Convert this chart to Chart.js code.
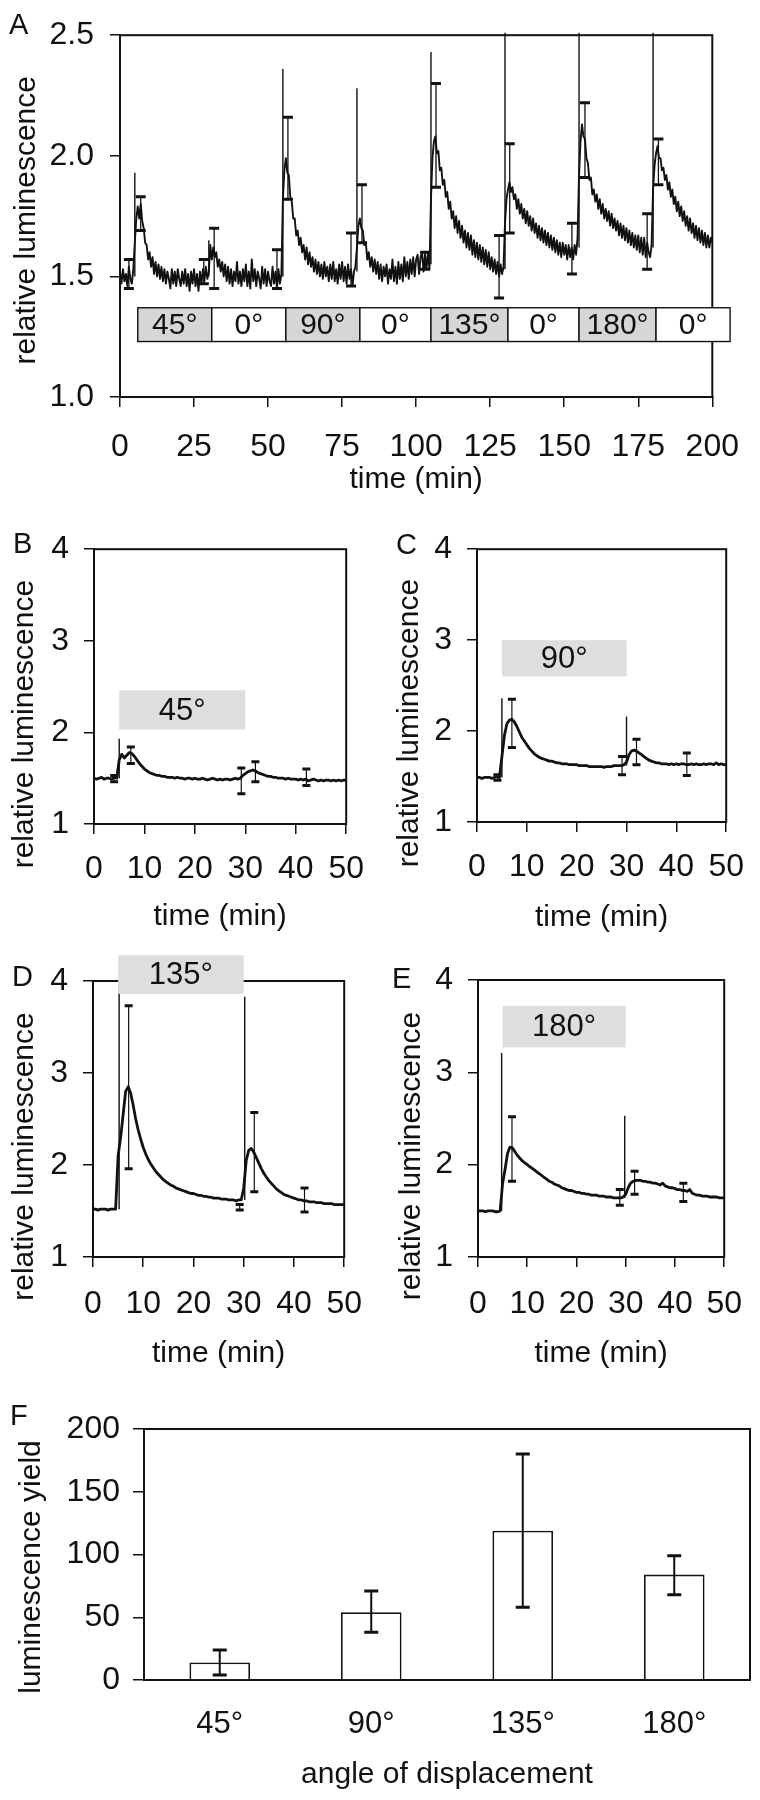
<!DOCTYPE html>
<html><head><meta charset="utf-8">
<script src="https://cdn.jsdelivr.net/npm/chart.js@4.4.1/dist/chart.umd.min.js"></script>
<style>
html,body{margin:0;padding:0;background:#fff;}
#fig{position:relative;width:760px;height:1800px;overflow:hidden;background:#fff;font-family:'Liberation Sans',Arial,sans-serif;}
canvas{position:absolute;}
.lt{position:absolute;font-size:29px;line-height:29px;color:#111;}
</style></head><body>
<div id="fig">
<canvas id="cA" width="760" height="510" style="left:0;top:0"></canvas>
<canvas id="cB" width="380" height="425" style="left:0;top:515px"></canvas>
<canvas id="cC" width="380" height="425" style="left:380px;top:515px"></canvas>
<canvas id="cD" width="380" height="430" style="left:0;top:945px"></canvas>
<canvas id="cE" width="380" height="430" style="left:380px;top:945px"></canvas>
<canvas id="cF" width="760" height="420" style="left:0;top:1380px"></canvas>
<div class="lt" style="left:9px;top:10px">A</div>
<div class="lt" style="left:13px;top:529px">B</div>
<div class="lt" style="left:396px;top:530px">C</div>
<div class="lt" style="left:12px;top:962px">D</div>
<div class="lt" style="left:392px;top:964px">E</div>
<div class="lt" style="left:10px;top:1401px">F</div>
</div>
<script>
// ---------- DATA ----------
// Panel A: sampling step (min) and relative luminescence trace
const STEP_A = 0.5;
const lumA = [
1.52,1.47,1.53,1.48,1.51,1.46,1.54,1.49,1.47,1.53,
1.64,1.74,1.79,1.74,1.80,1.73,1.70,1.64,1.63,1.57,1.60,1.54,1.58,1.51,1.56,1.50,1.55,1.49,1.54,1.48,
1.53,1.47,1.52,1.49,1.45,1.53,1.47,1.52,1.46,1.53,1.49,1.46,1.52,1.47,1.53,1.46,1.51,1.44,1.52,1.47,
1.53,1.46,1.51,1.44,1.52,1.47,1.53,1.48,1.54,1.49,
1.52,1.63,1.57,1.62,1.58,1.60,1.54,1.57,1.52,1.56,1.50,1.55,1.48,1.54,1.47,1.53,1.46,1.52,1.48,1.56,
1.47,1.52,1.46,1.53,1.48,1.55,1.46,1.52,1.45,1.57,1.48,1.53,1.46,1.52,1.49,1.45,1.54,1.47,1.53,1.46,
1.52,1.48,1.46,1.54,1.47,1.52,1.45,1.53,1.47,1.51,
1.82,1.94,1.99,1.93,1.92,1.83,1.81,1.74,1.74,1.67,1.69,1.63,1.66,1.60,1.63,1.57,1.62,1.55,1.60,1.54,
1.58,1.52,1.57,1.51,1.56,1.50,1.55,1.49,1.56,1.50,1.54,1.48,1.55,1.49,1.56,1.48,1.53,1.47,1.55,1.49,
1.56,1.48,1.54,1.47,1.55,1.49,1.53,1.46,1.52,1.54,
1.62,1.71,1.74,1.70,1.69,1.63,1.64,1.57,1.60,1.54,1.58,1.52,1.57,1.51,1.56,1.49,1.55,1.48,1.54,1.50,
1.55,1.47,1.53,1.49,1.57,1.48,1.54,1.47,1.56,1.49,1.55,1.48,1.58,1.50,1.56,1.49,1.57,1.51,1.58,1.50,
1.57,1.59,1.51,1.58,1.60,1.52,1.59,1.53,1.60,1.53,
1.82,1.99,2.06,2.08,2.01,2.02,1.94,1.95,1.88,1.90,1.83,1.85,1.78,1.81,1.74,1.77,1.70,1.75,1.68,1.73,
1.66,1.71,1.64,1.69,1.62,1.68,1.61,1.67,1.59,1.65,1.58,1.64,1.57,1.63,1.56,1.62,1.55,1.61,1.54,1.60,
1.53,1.58,1.52,1.57,1.51,1.56,1.50,1.55,1.51,1.54,
1.72,1.82,1.86,1.89,1.85,1.87,1.82,1.84,1.78,1.82,1.76,1.80,1.74,1.78,1.72,1.77,1.71,1.75,1.69,1.74,
1.68,1.72,1.66,1.71,1.65,1.70,1.64,1.69,1.63,1.68,1.62,1.67,1.61,1.66,1.60,1.65,1.59,1.64,1.58,1.64,
1.59,1.63,1.57,1.63,1.58,1.62,1.57,1.63,1.59,1.66,
1.92,2.06,2.13,2.08,2.07,1.99,1.97,1.90,1.91,1.84,1.86,1.81,1.84,1.78,1.82,1.76,1.80,1.74,1.78,1.73,
1.77,1.71,1.76,1.70,1.74,1.69,1.73,1.67,1.72,1.66,1.71,1.65,1.70,1.64,1.69,1.63,1.68,1.62,1.67,1.61,
1.67,1.60,1.66,1.59,1.66,1.58,1.64,1.60,1.58,1.63,
1.86,1.96,2.01,2.04,1.99,1.99,1.94,1.95,1.90,1.92,1.86,1.89,1.83,1.86,1.80,1.83,1.77,1.81,1.75,1.79,
1.73,1.77,1.71,1.75,1.69,1.74,1.68,1.72,1.66,1.71,1.65,1.70,1.64,1.69,1.63,1.68,1.62,1.67,1.62,1.66,
1.64
];
// Panel A: stimulus spikes (time, base, top)
const spikeTimeA = [5, 30, 55, 80, 105, 130, 155, 180];
const spikeBaseA = [1.50, 1.50, 1.50, 1.52, 1.55, 1.53, 1.62, 1.62];
const spikeTopA  = [1.93, 1.65, 2.36, 2.28, 2.43, 2.51, 2.51, 2.51];
// Panel A: error bars
const errTimeA = [3, 7, 28.3, 31.8, 53, 56.7, 78, 81.7, 103, 106.7, 128, 131.6, 152.6, 157, 178, 181.8];
const errLowA  = [1.45,1.69,1.47,1.45,1.45,1.82,1.46,1.64,1.53,1.87,1.41,1.68,1.51,1.91,1.53,1.88];
const errHighA = [1.57,1.83,1.57,1.70,1.61,2.16,1.68,1.88,1.60,2.30,1.67,2.05,1.72,2.22,1.76,2.07];
// Panel A: displacement protocol boxes
const protoEdgesA  = [6, 31, 56, 81, 105, 131, 155, 181, 206];
const protoLabelsA = ['45°','0°','90°','0°','135°','0°','180°','0°'];
const protoRowA    = [1.23, 1.37];
const ticksA_x = [0, 200, 25];
const ticksA_y = [1.0, 2.5, 0.5];

// Panels B-E: 0.5-min samples, 0..50 min
const STEP_BE = 0.5;
const lumB = [
1.50,1.49,1.50,1.51,1.49,1.50,1.50,1.49,1.51,1.50,
1.70,1.76,1.72,1.75,1.78,1.77,1.74,1.70,1.66,1.63,
1.60,1.58,1.56,1.55,1.54,1.53,1.53,1.52,1.52,1.51,
1.51,1.51,1.50,1.51,1.50,1.50,1.49,1.50,1.50,1.49,
1.50,1.49,1.49,1.50,1.49,1.48,1.49,1.50,1.49,1.48,
1.49,1.48,1.49,1.49,1.48,1.49,1.50,1.49,1.50,1.53,
1.55,1.57,1.58,1.59,1.58,1.56,1.55,1.54,1.53,1.52,
1.52,1.51,1.51,1.50,1.50,1.50,1.49,1.50,1.49,1.49,
1.49,1.48,1.49,1.48,1.49,1.47,1.48,1.49,1.48,1.47,
1.48,1.47,1.48,1.48,1.47,1.48,1.47,1.48,1.47,1.48,
1.48];
const lumC = [
1.49,1.49,1.48,1.49,1.49,1.49,1.48,1.49,1.50,1.49,
1.72,1.95,2.08,2.12,2.13,2.10,2.05,1.99,1.93,1.89,
1.85,1.81,1.78,1.75,1.73,1.71,1.70,1.69,1.68,1.67,
1.67,1.66,1.65,1.65,1.64,1.64,1.64,1.63,1.63,1.63,
1.63,1.62,1.62,1.62,1.62,1.61,1.61,1.61,1.61,1.61,
1.61,1.60,1.61,1.61,1.61,1.62,1.62,1.62,1.62,1.63,
1.66,1.74,1.78,1.79,1.78,1.76,1.74,1.72,1.70,1.68,
1.67,1.66,1.65,1.65,1.64,1.64,1.64,1.63,1.64,1.63,
1.64,1.63,1.64,1.64,1.63,1.63,1.64,1.63,1.64,1.63,
1.63,1.64,1.63,1.64,1.64,1.63,1.65,1.63,1.64,1.63,
1.63];
const lumD = [
1.52,1.52,1.51,1.52,1.52,1.52,1.51,1.52,1.52,1.52,
2.10,2.30,2.55,2.80,2.85,2.78,2.65,2.50,2.38,2.28,
2.19,2.12,2.06,2.01,1.97,1.93,1.90,1.87,1.84,1.82,
1.80,1.78,1.77,1.75,1.74,1.73,1.72,1.71,1.70,1.69,
1.69,1.68,1.67,1.67,1.66,1.66,1.65,1.65,1.64,1.64,
1.64,1.63,1.63,1.63,1.62,1.62,1.62,1.61,1.62,1.62,
1.75,2.05,2.16,2.18,2.14,2.08,2.02,1.96,1.91,1.87,
1.83,1.80,1.77,1.74,1.72,1.70,1.68,1.67,1.66,1.65,
1.64,1.63,1.62,1.62,1.61,1.61,1.60,1.60,1.60,1.59,
1.59,1.59,1.58,1.58,1.58,1.58,1.57,1.57,1.57,1.57,
1.57];
const lumE = [
1.50,1.50,1.50,1.49,1.50,1.50,1.50,1.49,1.49,1.50,
1.80,1.95,2.12,2.19,2.18,2.14,2.10,2.07,2.04,2.02,
2.00,1.98,1.96,1.94,1.92,1.90,1.88,1.86,1.84,1.82,
1.81,1.79,1.78,1.77,1.75,1.74,1.73,1.72,1.72,1.71,
1.70,1.70,1.69,1.69,1.68,1.68,1.67,1.67,1.67,1.66,
1.66,1.66,1.65,1.65,1.65,1.64,1.64,1.64,1.64,1.65,
1.68,1.75,1.80,1.82,1.83,1.83,1.83,1.82,1.82,1.81,
1.81,1.80,1.80,1.79,1.78,1.80,1.77,1.76,1.75,1.75,
1.74,1.73,1.73,1.72,1.72,1.71,1.73,1.69,1.68,1.67,
1.67,1.66,1.66,1.66,1.65,1.65,1.65,1.65,1.64,1.64,
1.64];
const spikesB = {t:[5],          lo:[1.50],      hi:[1.93]};
const spikesC = {t:[5, 30],      lo:[1.49,1.62], hi:[2.36,2.16]};
const spikesD = {t:[5.2, 30.2],  lo:[1.52,1.62], hi:[4.00,3.83]};
const spikesE = {t:[4.8, 29.8],  lo:[1.50,1.64], hi:[3.21,2.53]};
const errB = {t:[4,7.3,29.2,32,42.1],   lo:[1.46,1.66,1.33,1.46,1.42], hi:[1.53,1.84,1.61,1.68,1.60]};
const errC = {t:[4.1,7,29.1,32,42.1],   lo:[1.46,1.82,1.52,1.63,1.51], hi:[1.52,2.35,1.72,1.91,1.76]};
const errD = {t:[7.1,29.2,32.1,42.1],   lo:[1.96,1.51,1.71,1.49],      hi:[3.73,1.57,2.57,1.75]};
const errE = {t:[6.9,28.8,31.8,41.7],   lo:[1.82,1.56,1.68,1.60],      hi:[2.52,1.73,1.93,1.80]};
const stimAngleBE = ['45°','90°','135°','180°'];
const stimSpanBE = [5, 30];
const stimRowB = [2.03, 2.46], stimRowC = [2.60, 3.00], stimRowD = [3.86, 4.28], stimRowE = [3.27, 3.72];

// Panel F
const anglesF = ['45°','90°','135°','180°'];
const yieldF  = [14, 54, 119, 84];
const yieldLoF = [4, 38, 58, 68];
const yieldHiF = [24, 71, 180, 99];

// ---------- STYLE / HELPERS ----------
const FONT = "'Liberation Sans', Arial, Helvetica, sans-serif";
const INK = '#111';
Chart.defaults.font.family = FONT;
Chart.defaults.color = INK;

function toXY(values, step) { return values.map((v, i) => ({x: i * step, y: v})); }
function spikeData(s) {
  const out = [];
  s.t.forEach((t, i) => { out.push({x:t, y:s.lo[i]}, {x:t, y:s.hi[i]}, {x:t, y:null}); });
  return out;
}
function framePlugin() {
  return { id:'frame', beforeDatasetsDraw(chart) {
    const {ctx, chartArea:a} = chart;
    ctx.save(); ctx.strokeStyle = INK; ctx.lineWidth = 2;
    ctx.strokeRect(a.left, a.top, a.right - a.left, a.bottom - a.top);
    ctx.restore();
  }};
}
function errPlugin(e, st) {
  return { id:'errbars', afterDatasetsDraw(chart) {
    const {ctx, scales:{x, y}} = chart;
    ctx.save(); ctx.strokeStyle = INK;
    e.t.forEach((t, i) => {
      const px = x.getPixelForValue(t);
      const pl = y.getPixelForValue(e.lo[i]), ph = y.getPixelForValue(e.hi[i]);
      ctx.lineWidth = st.line; ctx.beginPath(); ctx.moveTo(px, pl); ctx.lineTo(px, ph); ctx.stroke();
      ctx.lineWidth = st.capT; ctx.beginPath();
      ctx.moveTo(px - st.capW/2, pl); ctx.lineTo(px + st.capW/2, pl);
      ctx.moveTo(px - st.capW/2, ph); ctx.lineTo(px + st.capW/2, ph);
      ctx.stroke();
    });
    ctx.restore();
  }};
}
function boxPlugin(boxes) {
  return { id:'boxes', afterDatasetsDraw(chart) {
    const {ctx, scales:{x, y}} = chart;
    ctx.save();
    boxes.forEach(b => {
      const l = x.getPixelForValue(b.x0), r = x.getPixelForValue(b.x1);
      const t = y.getPixelForValue(b.y1), bt = y.getPixelForValue(b.y0);
      ctx.fillStyle = b.fill; ctx.fillRect(l, t, r - l, bt - t);
      if (b.stroke) { ctx.strokeStyle = INK; ctx.lineWidth = 1.4; ctx.strokeRect(l, t, r - l, bt - t); }
      ctx.fillStyle = INK; ctx.font = b.size + 'px ' + FONT;
      ctx.textAlign = 'center'; ctx.textBaseline = 'middle';
      ctx.fillText(b.text, (l + r) / 2, (t + bt) / 2 + 1);
    });
    ctx.restore();
  }};
}
function axisCommon(tickLen) {
  return {
    grid: {drawOnChartArea:false, drawTicks:true, tickLength:tickLen, color:INK, lineWidth:1.5},
    border: {display:true, color:INK, width:2}
  };
}
function pad(n) { return '\u00A0'.repeat(n); }

function linePanel(id, o) {
  const datasets = [
    {data: toXY(o.values, o.step), borderColor: INK, borderWidth: o.lw, pointRadius: 0, tension: 0,
     borderJoinStyle: 'round', spanGaps: false},
    {data: spikeData(o.spikes), borderColor: INK, borderWidth: 1.4, pointRadius: 0, spanGaps: false, clip: false}
  ];
  return new Chart(document.getElementById(id), {
    type: 'line',
    data: {datasets},
    options: {
      responsive: false, animation: false, devicePixelRatio: 1,
      layout: {padding: {left: 0, top: o.top, right: o.right, bottom: 0}},
      plugins: {legend: {display: false}, tooltip: {enabled: false}},
      scales: {
        x: Object.assign(axisCommon(10), {
          type: 'linear', min: o.x[0], max: o.x[1],
          ticks: {stepSize: o.x[2], font: {size: o.tickSize}, padding: o.xpad, maxRotation: 0, autoSkip: false, color: INK},
          title: {display: true, text: 'time (min)', font: {size: 30}, color: INK, padding: {top: 0, bottom: o.xtb}},
          afterFit(s) { s.height = o.xh; }
        }),
        y: Object.assign(axisCommon(10), {
          type: 'linear', min: o.y[0], max: o.y[1],
          ticks: {stepSize: o.y[2], font: {size: o.tickSize}, padding: o.ypad, color: INK,
                  callback: o.yfmt || (v => v)},
          title: {display: true, text: 'relative luminescence' + pad(o.yshift), font: {size: 30}, color: INK,
                  padding: {top: o.ytp, bottom: 0}},
          afterFit(s) { s.width = o.yw; }
        })
      }
    },
    plugins: [framePlugin(), errPlugin(o.err, o.errStyle), boxPlugin(o.boxes)]
  });
}

// ---------- PANEL A ----------
const boxesA = protoLabelsA.map((lab, i) => ({
  x0: protoEdgesA[i], x1: protoEdgesA[i + 1], y0: protoRowA[0], y1: protoRowA[1],
  fill: lab === '0°' ? '#ffffff' : '#d6d6d6', stroke: true, text: lab, size: 30
}));
linePanel('cA', {
  values: lumA, step: STEP_A, lw: 1.9,
  spikes: {t: spikeTimeA, lo: spikeBaseA, hi: spikeTopA},
  err: {t: errTimeA, lo: errLowA, hi: errHighA}, errStyle: {line: 1.3, capT: 3, capW: 10},
  boxes: boxesA,
  x: ticksA_x, y: ticksA_y, tickSize: 32, xpad: 21, ypad: 16,
  yfmt: v => Number(v).toFixed(1),
  top: 28, right: 32, xh: 113, xtb: 12, yw: 120, ytp: 9, yshift: 1
});

// ---------- PANELS B-E ----------
function stimBox(label, row) {
  return [{x0: stimSpanBE[0], x1: stimSpanBE[1], y0: row[0], y1: row[1], fill: '#dedede', stroke: false, text: label, size: 31}];
}
const errStyleBE = {line: 1.2, capT: 3, capW: 8};
const common = {step: STEP_BE, lw: 2.8, x: [0, 50, 10], y: [1, 4, 1], tickSize: 32, ypad: 15, yshift: 9, errStyle: errStyleBE};
linePanel('cB', Object.assign({}, common, {values: lumB, spikes: spikesB, err: errB, boxes: stimBox(stimAngleBE[0], stimRowB),
  xpad: 16, top: 33, right: 28, xh: 116, xtb: 5, yw: 94, ytp: 7}));
linePanel('cC', Object.assign({}, common, {values: lumC, spikes: spikesC, err: errC, boxes: stimBox(stimAngleBE[1], stimRowC),
  xpad: 16, top: 31, right: 24, xh: 118, xtb: 4, yw: 97, ytp: 12}));
linePanel('cD', Object.assign({}, common, {values: lumD, spikes: spikesD, err: errD, boxes: stimBox(stimAngleBE[2], stimRowD),
  xpad: 18, top: 36, right: 27, xh: 118, xtb: 3, yw: 93, ytp: 7}));
linePanel('cE', Object.assign({}, common, {values: lumE, spikes: spikesE, err: errE, boxes: stimBox(stimAngleBE[3], stimRowE),
  xpad: 18, top: 35, right: 22, xh: 118, xtb: 3, yw: 98, ytp: 14}));

// ---------- PANEL F ----------
new Chart(document.getElementById('cF'), {
  type: 'bar',
  data: {labels: anglesF, datasets: [{data: yieldF, backgroundColor: '#ffffff', borderColor: INK, borderWidth: 1.8,
         barPercentage: 0.4, categoryPercentage: 1.0}]},
  options: {
    responsive: false, animation: false, devicePixelRatio: 1,
    layout: {padding: {left: 0, top: 49, right: 10, bottom: 0}},
    plugins: {legend: {display: false}, tooltip: {enabled: false}},
    scales: {
      x: {
        grid: {drawOnChartArea: false, drawTicks: false, color: INK},
        border: {display: true, color: INK, width: 2},
        ticks: {font: {size: 31}, padding: 26, color: INK},
        title: {display: true, text: 'angle of displacement', font: {size: 30}, color: INK, padding: {top: 0, bottom: 7}},
        afterFit(s) { s.height = 120; }
      },
      y: Object.assign(axisCommon(11), {
        min: 0, max: 200,
        ticks: {stepSize: 50, font: {size: 32}, padding: 13, color: INK},
        title: {display: true, text: 'luminescence yield' + pad(3), font: {size: 30}, color: INK, padding: {top: 14, bottom: 0}},
        afterFit(s) { s.width = 144; }
      })
    }
  },
  plugins: [framePlugin(), errPlugin({t: [0, 1, 2, 3], lo: yieldLoF, hi: yieldHiF}, {line: 2, capT: 3, capW: 14})]
});
</script>
</body></html>
